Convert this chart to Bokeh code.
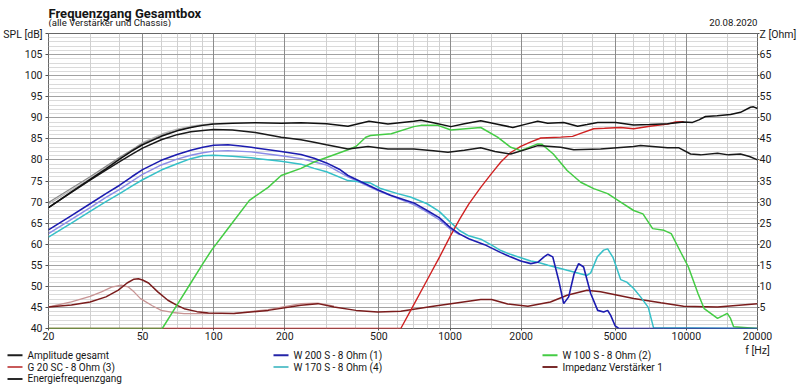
from bokeh.plotting import figure
from bokeh.models import (Range1d, LinearAxis, FixedTicker, SingleIntervalTicker, Grid,
                          NumeralTickFormatter)
from bokeh.layouts import column
from bokeh.core.properties import value
from bokeh.embed import file_html
from bokeh.resources import INLINE

# ---------------- data ----------------
amp_f = [20, 25, 30, 35, 40, 45, 50, 60, 70, 80, 90, 100, 120, 150, 193, 234, 300, 370, 454, 546,
         703, 753, 850, 1009, 1150, 1349, 1550, 1844, 2100, 2350, 2590, 3027, 3468, 3800, 4215,
         5024, 5984, 7000, 8322, 9730, 10620, 11300, 12050, 13500, 15380, 16950, 18670, 19230, 20000]
amp_db = [68.7, 72.4, 75.4, 77.9, 80.2, 82.1, 83.6, 85.6, 86.9, 87.7, 88.2, 88.5, 88.7, 88.8, 88.7,
          88.8, 88.6, 88.0, 89.2, 88.5, 89.2, 89.4, 88.8, 87.9, 88.6, 89.3, 88.6, 87.7, 88.5, 89.2,
          88.7, 88.9, 88.0, 88.4, 88.9, 88.9, 88.3, 88.4, 88.6, 89.0, 88.9, 89.5, 90.3, 90.5, 90.8,
          91.3, 92.5, 92.6, 92.2]

ener_f = [20, 25, 30, 35, 40, 45, 50, 60, 70, 80, 90, 100, 120, 150, 193, 234, 266, 300, 370, 450,
          546, 703, 850, 980, 1150, 1349, 1550, 1807, 2100, 2350, 2940, 3337, 4336, 5984, 6400,
          8322, 9268, 10420, 11480, 13550, 15070, 16950, 18500, 20000]
ener_db = [68.7, 72.3, 75.2, 77.6, 79.6, 81.3, 82.8, 84.8, 86.0, 86.7, 87.0, 87.2, 87.1, 86.5, 85.4,
           84.8, 84.2, 83.6, 82.6, 83.2, 82.6, 82.6, 82.2, 81.8, 82.3, 82.9, 82.0, 81.4, 82.5, 83.4,
           83.0, 82.4, 82.6, 83.2, 83.4, 82.9, 82.9, 81.4, 81.2, 81.6, 81.2, 81.4, 80.8, 80.0]

gray1_f = [20, 30, 40, 50, 60, 70, 80, 90, 100]
gray1_db = [69.9, 76.0, 80.6, 83.9, 85.8, 87.0, 87.8, 88.3, 88.5]
gray2_f = [20, 30, 40, 50, 60, 70, 80, 90, 100]
gray2_db = [69.5, 75.6, 80.3, 84.1, 86.1, 87.3, 88.0, 88.4, 88.6]

w200_f = [20, 25, 30, 35, 40, 45, 50, 60, 70, 80, 90, 100, 115, 130, 144, 193, 234, 266, 300, 340,
          370, 420, 500, 560, 620, 703, 800, 900, 1000, 1100, 1200, 1400, 1641, 1800, 1992, 2197,
          2350, 2500, 2590, 2721, 2884, 3027, 3177, 3350, 3501, 3675, 3937, 4215, 4467, 4645, 4785,
          5000, 5175, 20000]
w200_db = [63.4, 66.8, 69.6, 72.0, 74.0, 76.0, 77.7, 79.9, 81.3, 82.3, 83.0, 83.5, 83.6, 83.3, 83.0,
           82.0, 81.3, 80.4, 79.3, 77.8, 76.3, 74.8, 72.8, 71.6, 70.8, 69.8, 68.0, 66.3, 64.0, 62.4,
           61.3, 59.9, 58.0, 57.0, 56.0, 55.4, 55.7, 57.0, 57.6, 57.0, 51.4, 45.9, 47.5, 53.0, 55.4,
           54.6, 48.3, 44.3, 43.9, 44.3, 43.1, 40.6, 40.0, 40.0]

lav_f = [20, 25, 30, 35, 40, 45, 50, 60, 70, 80, 90, 100, 115, 144, 193, 234, 300, 370, 500, 620,
         703, 800, 900, 1000, 1100]
lav_db = [62.5, 65.9, 68.7, 71.1, 73.0, 74.9, 76.6, 78.8, 80.2, 81.1, 81.7, 82.1, 82.2, 81.9, 81.0,
          80.3, 78.8, 76.0, 72.6, 70.6, 69.4, 67.6, 65.8, 63.6, 62.2]

w170_f = [20, 25, 30, 35, 40, 45, 50, 60, 70, 80, 90, 100, 120, 144, 193, 234, 266, 300, 370, 461,
          509, 600, 680, 800, 900, 1000, 1100, 1200, 1350, 1500, 1641, 1800, 1992, 2197, 2350,
          2600, 3130, 3800, 3937, 4200, 4467, 4645, 4900, 5273, 5600, 5984, 6400, 6900, 7260, 20000]
w170_db = [61.7, 65.0, 67.8, 70.1, 72.0, 73.8, 75.3, 77.6, 79.1, 80.3, 81.0, 81.1, 80.9, 80.5, 79.7,
           79.0, 78.0, 77.2, 75.1, 74.5, 73.2, 72.0, 71.2, 69.6, 67.8, 65.3, 63.2, 62.0, 61.2, 59.8,
           58.5, 57.6, 56.8, 56.0, 55.7, 55.0, 53.8, 52.6, 53.2, 57.0, 58.6, 58.9, 56.8, 51.6, 51.0,
           49.5, 47.5, 45.0, 40.2, 40.0]

w100_f = [20, 60.6, 70, 80, 90, 98, 110, 120, 141.6, 170, 193, 234, 266, 370, 400, 440, 461, 564,
          703, 753, 888, 1009, 1349, 1589, 1807, 1992, 2350, 2450, 2735, 3130, 3572, 4055, 4645,
          5273, 5984, 6550, 7200, 8040, 8630, 9530, 10200, 11200, 11900, 13550, 14900, 15380,
          15850, 20000]
w100_db = [40.0, 40.0, 45.6, 50.8, 55.4, 58.6, 62.3, 65.1, 70.4, 73.5, 76.3, 78.0, 79.5, 82.4, 83.2,
           85.4, 85.8, 86.2, 87.9, 88.2, 88.2, 87.1, 87.7, 85.4, 83.0, 82.2, 83.8, 83.7, 81.4, 77.5,
           74.7, 73.2, 72.0, 70.0, 68.0, 67.2, 63.7, 63.3, 62.5, 57.8, 54.6, 48.3, 44.7, 42.4, 43.6,
           42.4, 40.4, 40.0]

g20_f = [20, 619, 700, 800, 900, 1000, 1100, 1200, 1349, 1500, 1641, 1800, 1992, 2200, 2421, 2940,
         3300, 3572, 4055, 4500, 5273, 5984, 7000, 8322, 9000, 9730]
g20_db = [40.0, 40.0, 45.5, 51.5, 56.8, 61.8, 66.0, 69.5, 73.5, 76.8, 79.5, 81.7, 83.2, 84.3, 85.2,
          85.4, 85.6, 86.3, 87.4, 87.5, 87.7, 87.4, 88.0, 88.5, 89.0, 89.1]

imp_f = [20, 25, 30, 35, 39.5, 43, 46, 48, 50, 53, 58, 64, 70, 75, 85, 95, 122, 170, 234, 276, 323,
         400, 494, 619, 849, 1009, 1349, 1500, 1754, 2136, 2660, 3130, 3800, 4336, 5984, 7800,
         9730, 13550, 20000]
imp_ohm = [5.1, 5.6, 6.3, 7.5, 9.1, 10.8, 11.7, 11.8, 11.5, 10.8, 8.7, 6.7, 5.5, 4.7, 4.0, 3.7,
           3.55, 4.3, 5.5, 5.9, 5.1, 4.3, 3.9, 4.1, 5.3, 5.9, 6.9, 6.9, 5.8, 5.3, 6.3, 7.9, 9.1, 8.7,
           7.1, 6.1, 5.3, 5.1, 5.9]

imp2_f = [20, 25, 30, 33.5, 37, 40.6, 43.4, 46, 49, 55, 60, 67, 75, 90, 122, 170, 234, 276, 323]
imp2_ohm = [5.1, 6.3, 7.6, 8.7, 9.8, 10.3, 9.9, 8.7, 7.1, 5.4, 4.3, 3.8, 3.55, 3.55, 3.6, 4.5, 5.9,
            6.0, 5.3]

x_ticks = [20, 50, 100, 200, 500, 1000, 2000, 5000, 10000, 20000]
x_minor = [30, 40, 60, 70, 80, 90, 150, 300, 400, 600, 700, 800, 900, 1500, 3000, 4000, 6000,
           7000, 8000, 9000, 15000]
spl_ticks = [40, 45, 50, 55, 60, 65, 70, 75, 80, 85, 90, 95, 100, 105, 110]
z_ticks = [5, 10, 15, 20, 25, 30, 35, 40, 45, 50, 55, 60, 65, 70]

title_text = "Frequenzgang Gesamtbox"
subtitle_text = "(alle Verstärker und Chassis)"
date_text = "20.08.2020"
spl_label = "SPL [dB]"
z_label = "Z [Ohm]"
f_label = "f [Hz]"

legend_names = ["Amplitude gesamt", "G 20 SC - 8 Ohm (3)", "Energiefrequenzgang",
                "W 200 S - 8 Ohm (1)", "W 170 S - 8 Ohm (4)",
                "W 100 S - 8 Ohm (2)", "Impedanz Verstärker 1"]
legend_colors = ["#1e1e1e", "#c85a5a", "#2a2a2a", "#2424a8", "#62c4cc", "#44cc44", "#7a2c2c"]
legend_cols = [0, 0, 0, 1, 1, 2, 2]

FONT = "Roboto"
W = 800


def strip(height):
    s = figure(width=W, height=height, x_range=Range1d(0, W), y_range=Range1d(height, 0),
               x_axis_location=None, y_axis_location=None, title=None,
               min_border=0, output_backend="svg", toolbar_location=None)
    s.frame_align = False
    s.grid.visible = False
    s.outline_line_color = None
    return s


# ---------------- top strip (title texts) ----------------
TOP_H = 27
top = strip(TOP_H)
top.text(x=[48], y=[12.5], text=[title_text], text_font=value(FONT), text_font_size="13px",
         text_font_style="bold", text_baseline="alphabetic", text_align="left", text_color="#151515")
top.text(x=[48], y=[22.3], text=[subtitle_text], text_font=value(FONT), text_font_size="9.6px",
         text_baseline="alphabetic", text_align="left", text_color="#151515")
top.text(x=[757], y=[22.3], text=[date_text], text_font=value(FONT), text_font_size="9.6px",
         text_baseline="alphabetic", text_align="right", text_color="#151515")

# ---------------- main chart ----------------
MAIN_H = 317
p = figure(width=W, height=MAIN_H, x_axis_type="log",
           x_range=Range1d(20, 20000), y_range=Range1d(40, 110), title=None,
           output_backend="svg", toolbar_location=None,
           min_border_left=47, min_border_right=43, min_border_top=6, min_border_bottom=16)
p.extra_y_ranges = {"z": Range1d(0, 70)}
p.background_fill_color = "white"
p.border_fill_color = "white"
p.outline_line_color = "#666666"
p.outline_line_width = 1
p.xgrid.visible = False
p.ygrid.visible = False

# grids in drawing order: light lines first, dark lines last
p.add_layout(Grid(dimension=1, ticker=SingleIntervalTicker(interval=1),
                  grid_line_color="#dadada", grid_line_width=1))
p.add_layout(Grid(dimension=0, ticker=FixedTicker(ticks=x_minor),
                  grid_line_color="#d0d0d0", grid_line_width=1))
p.add_layout(Grid(dimension=1, ticker=SingleIntervalTicker(interval=5),
                  grid_line_color="#a2a2a2", grid_line_width=1))
p.add_layout(Grid(dimension=0, ticker=FixedTicker(ticks=x_ticks),
                  grid_line_color="#8c8c8c", grid_line_width=1))

# axes
p.xaxis.ticker = FixedTicker(ticks=x_ticks)
p.xaxis.formatter = NumeralTickFormatter(format="0")
p.yaxis.ticker = FixedTicker(ticks=spl_ticks)
p.yaxis.major_label_overrides = {110: spl_label}
zaxis = LinearAxis(y_range_name="z", ticker=FixedTicker(ticks=z_ticks))
zaxis.major_label_overrides = {70: z_label}
p.add_layout(zaxis, "right")
for ax in [p.xaxis[0], p.yaxis[0], zaxis]:
    ax.axis_line_color = None
    ax.major_tick_line_color = "#505050"
    ax.minor_tick_line_color = None
    ax.major_tick_in = 0
    ax.major_tick_out = 3
    ax.major_label_text_font = FONT
    ax.major_label_text_font_size = "10.5px"
    ax.major_label_text_color = "#1a1a1a"
p.xaxis.major_tick_out = 2
p.xaxis.major_label_standoff = 1
p.yaxis.major_label_standoff = 3
zaxis.major_tick_out = 2
zaxis.major_label_standoff = 0

# curves
p.line(imp2_f, imp2_ohm, y_range_name="z", color="#c89494", line_width=1.3)
p.line(imp_f, imp_ohm, y_range_name="z", color="#7a1c1c", line_width=1.5)
p.line(gray2_f, gray2_db, color="#b8b8b8", line_width=1.3)
p.line(gray1_f, gray1_db, color="#8a8a8a", line_width=1.3)
p.line(lav_f, lav_db, color="#8c8ce8", line_width=1.4)
p.line(w170_f, w170_db, color="#36c0c8", line_width=1.5)
p.line(g20_f, g20_db, color="#d02222", line_width=1.4)
p.line(w100_f, w100_db, color="#44cc44", line_width=1.5)
p.line(w200_f, w200_db, color="#1c1cb0", line_width=1.6)
p.line(ener_f, ener_db, color="#1a1a1a", line_width=1.5)
p.line(amp_f, amp_db, color="#111111", line_width=1.5)

# ---------------- legend strip ----------------
LEG_H = 388 - TOP_H - MAIN_H
leg = strip(LEG_H)
leg.text(x=[757], y=[6], text=[f_label], text_font=value(FONT), text_font_size="10.5px",
         text_baseline="middle", text_align="center", text_color="#1a1a1a")

col_sw = [7, 273, 542]
col_tx = [27, 293, 562]
row_y = [10.8, 22.6, 34.4]
counts = [0, 0, 0]
for name, color, col in zip(legend_names, legend_colors, legend_cols):
    y = row_y[counts[col]]
    counts[col] += 1
    leg.segment(x0=[col_sw[col]], y0=[y], x1=[col_sw[col] + 15], y1=[y],
                line_color=color, line_width=2)
    leg.text(x=[col_tx[col]], y=[y], text=[name], text_font=value(FONT), text_font_size="10px",
             text_baseline="middle", text_align="left", text_color="#151515")

layout = column(top, p, leg, spacing=0)
open("out.html", "w").write(file_html(layout, INLINE))
